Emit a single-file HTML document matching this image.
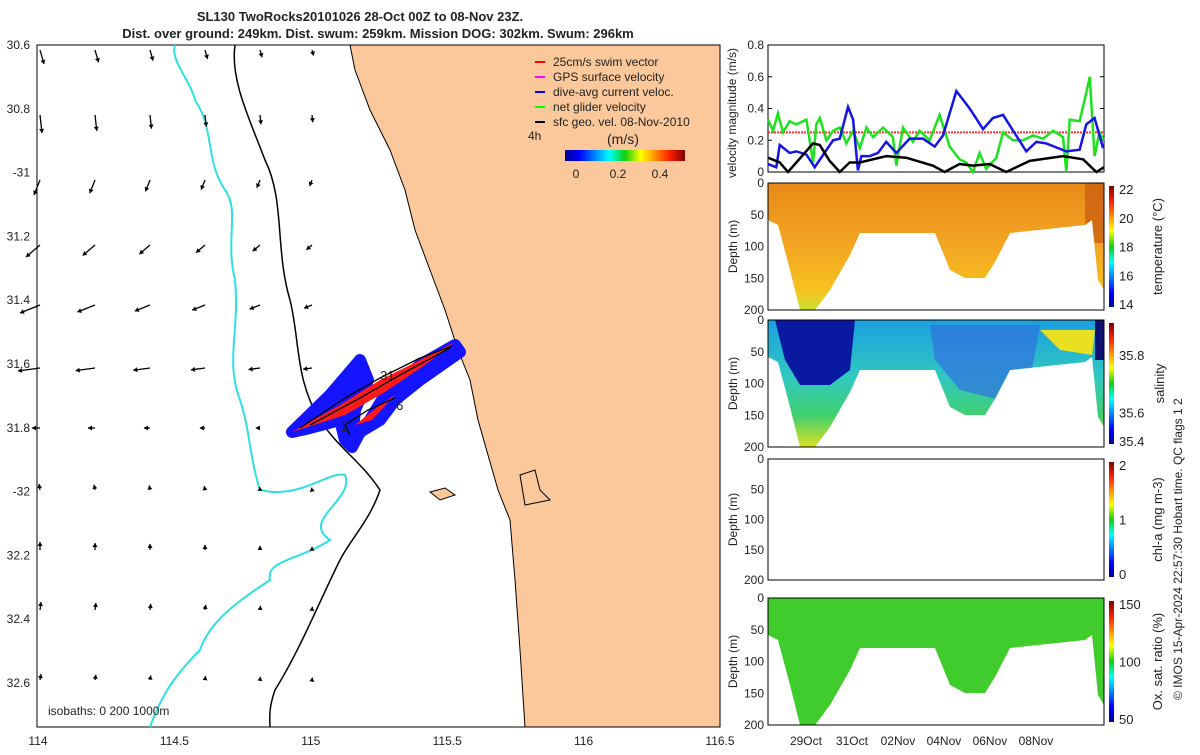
<!DOCTYPE html>
<html><head><meta charset="utf-8"><style>
body{margin:0;background:#fff;width:1200px;height:750px;overflow:hidden;font-family:"Liberation Sans",sans-serif}
svg text{font-family:"Liberation Sans",sans-serif;fill:#222}
</style></head><body>
<svg id="s" width="1200" height="750" viewBox="0 0 1200 750">
<defs>
<linearGradient id="jet" x1="0" x2="1" y1="0" y2="0">
<stop offset="0" stop-color="#00008f"/><stop offset="0.12" stop-color="#0000ff"/><stop offset="0.37" stop-color="#00ffff"/><stop offset="0.5" stop-color="#10d010"/><stop offset="0.63" stop-color="#ffff00"/><stop offset="0.87" stop-color="#ff2000"/><stop offset="1" stop-color="#800000"/></linearGradient>
<linearGradient id="jetv" x1="0" x2="0" y1="1" y2="0">
<stop offset="0" stop-color="#00008f"/><stop offset="0.12" stop-color="#0000ff"/><stop offset="0.37" stop-color="#00ffff"/><stop offset="0.5" stop-color="#10d010"/><stop offset="0.63" stop-color="#ffff00"/><stop offset="0.87" stop-color="#ff2000"/><stop offset="1" stop-color="#800000"/></linearGradient>
<linearGradient id="tg" x1="0" x2="0" y1="0" y2="1"><stop offset="0" stop-color="#e88a18"/><stop offset="0.5" stop-color="#f4a623"/><stop offset="0.85" stop-color="#f6c21e"/><stop offset="1" stop-color="#c8e030"/></linearGradient>
<linearGradient id="sg" x1="0" x2="0" y1="0" y2="1"><stop offset="0" stop-color="#1aa0e0"/><stop offset="0.45" stop-color="#30c8c0"/><stop offset="0.75" stop-color="#40d070"/><stop offset="1" stop-color="#d8e020"/></linearGradient>
</defs>
<g>
<rect x="37" y="45" width="683" height="682" fill="#fff" stroke="#000"/>
<path d="M350,45 L720,45 L720,727 L525,727 L520,650 L515,580 L510,520 L498,490 L488,455 L478,420 L470,380 L458,350 L445,310 L430,270 L415,230 L405,190 L390,150 L370,110 L355,70 Z" fill="#fac89b" stroke="#000"/>
<path d="M175,45 C170,60 190,80 195,100 C215,130 205,160 225,190 C240,210 225,240 235,280 C240,330 225,360 240,400 C250,430 250,460 260,490 C300,500 330,470 345,475 C355,500 300,520 330,540 C300,560 265,560 270,580 C240,600 210,620 200,650 C170,680 160,700 150,727" fill="none" stroke="#30e0e0" stroke-width="2"/>
<path d="M235,45 C230,80 250,120 265,160 C285,200 275,250 290,300 C300,340 295,380 320,420 C340,450 360,460 380,490 C370,520 350,540 340,560 C320,600 300,650 275,690 C268,710 270,720 270,727" fill="none" stroke="#000" stroke-width="1.5"/>
<path d="M430,492 L445,488 L455,495 L440,500 Z M520,475 L535,470 L540,490 L550,500 L525,505 Z" fill="#fac89b" stroke="#000"/>
<g id="arrows"></g>
<g>
<path d="M292,432 L330,395 L360,360 L368,380 L355,410 L352,440 L370,420 L385,395 L420,365 L455,345 L460,352 L420,380 L395,400 L380,420 L360,432 L352,447 L345,440 L340,420 L310,428 Z" fill="#1414ff" stroke="#1414ff" stroke-width="12" stroke-linejoin="round"/>
<path d="M292,432 L340,405 L380,380 L420,360 L455,342 L425,365 L385,392 L345,415 Z M355,425 L380,405 L395,395 L372,420 Z" fill="#ff1a1a"/>
<path d="M300,428 L345,398 L380,378 L420,358 L452,346 M310,425 L360,398 L400,375 L450,348 M345,425 L368,410 L395,398 M345,425 L350,435" fill="none" stroke="#000" stroke-width="1.3"/>
<text x="380" y="380" font-size="13">31</text>
<text x="396" y="410" font-size="13">6</text>
<text x="340" y="431" font-size="13">1</text>
</g>
<g font-size="12">
<line x1="535" y1="62" x2="545" y2="62" stroke="#f00" stroke-width="2"/><text x="553" y="66">25cm/s swim vector</text>
<line x1="535" y1="77" x2="545" y2="77" stroke="#f0f" stroke-width="2"/><text x="553" y="81">GPS surface velocity</text>
<line x1="535" y1="92" x2="545" y2="92" stroke="#00f" stroke-width="2"/><text x="553" y="96">dive-avg current veloc.</text>
<line x1="535" y1="107" x2="545" y2="107" stroke="#0f0" stroke-width="2"/><text x="553" y="111">net glider velocity</text>
<line x1="535" y1="122" x2="545" y2="122" stroke="#000" stroke-width="2"/><text x="553" y="126">sfc geo. vel. 08-Nov-2010</text>
<text x="528" y="140">4h</text>
<text x="607" y="144" font-size="14">(m/s)</text>
<rect x="565" y="150" width="120" height="11" fill="url(#jet)"/>
<text x="576" y="178" text-anchor="middle">0</text><text x="618" y="178" text-anchor="middle">0.2</text><text x="660" y="178" text-anchor="middle">0.4</text>
</g>
<text x="48" y="715" font-size="12">isobaths: 0   200  1000m</text>
<g id="mapaxes" font-size="12"></g>
</g>
<text x="360" y="21" font-size="13" font-weight="bold" text-anchor="middle">SL130 TwoRocks20101026 28-Oct 00Z to 08-Nov 23Z.</text>
<text x="378" y="38" font-size="13" font-weight="bold" text-anchor="middle">Dist. over ground: 249km. Dist. swum: 259km. Mission DOG: 302km. Swum: 296km</text>

<g id="vel"></g>

<g>
<clipPath id="c1"><path d="M768,183 L1104,183 L1104,290 L1098,280 L1092,220 L1085,225 L1010,233 L995,262 L985,278 L965,278 L950,270 L935,233 L860,233 L850,255 L830,290 L815,310 L800,310 L790,270 L778,225 L768,220 Z"/></clipPath>
<rect x="768" y="183" width="336" height="127" fill="url(#tg)" clip-path="url(#c1)"/>
<rect x="1085" y="183" width="19" height="60" fill="#c85a10" opacity=".7" clip-path="url(#c1)"/>
</g>
<g>
<clipPath id="c2"><path transform="translate(0,137)" d="M768,183 L1104,183 L1104,290 L1098,280 L1092,220 L1085,225 L1010,233 L995,262 L985,278 L965,278 L950,270 L935,233 L860,233 L850,255 L830,290 L815,310 L800,310 L790,270 L778,225 L768,220 Z"/></clipPath>
<rect x="768" y="320" width="336" height="127" fill="url(#sg)" clip-path="url(#c2)"/>
<path d="M775,320 L855,320 L850,370 L830,385 L800,385 L785,360 Z" fill="#0a1aa0" clip-path="url(#c2)"/>
<path d="M930,325 L1040,325 L1030,380 L1000,400 L960,390 L935,360 Z" fill="#3070e0" opacity=".7" clip-path="url(#c2)"/>
<path d="M1040,330 L1095,330 L1092,355 L1060,350 Z" fill="#e8e020" clip-path="url(#c2)"/>
<rect x="1095" y="320" width="9" height="40" fill="#101070" clip-path="url(#c2)"/>
</g>
<g>
<clipPath id="c3"><path transform="translate(0,415)" d="M768,183 L1104,183 L1104,290 L1098,280 L1092,220 L1085,225 L1010,233 L995,262 L985,278 L965,278 L950,270 L935,233 L860,233 L850,255 L830,290 L815,310 L800,310 L790,270 L778,225 L768,220 Z"/></clipPath>
<rect x="768" y="598" width="336" height="127" fill="#3fcc2c" clip-path="url(#c3)"/>
</g>
<g id="secaxes" font-size="12"></g>
<text transform="translate(1182,700) rotate(-90)" font-size="12">© IMOS 15-Apr-2024 22:57:30 Hobart time. QC flags 1  2</text>
</svg>
<script>
const NS='http://www.w3.org/2000/svg';
function mk(p,t,a){const e=document.createElementNS(NS,t);for(const k in a)e.setAttribute(k,a[k]);p.appendChild(e);return e;}
// ---- velocity chart data ----
const blueT=[0,0.36,0.51,0.94,1.23,1.67,2.03,2.83,3.12,3.48,3.7,3.91,4.06,4.42,4.78,5.14,5.58,6.16,6.74,7.25,7.61,8.19,8.77,9.35,9.78,10.22,11.23,11.67,12.1,12.97,13.55,13.84,14.2,14.57];
const blueV=[0.05,0.03,0.17,0.12,0.13,0.11,0.03,0.2,0.21,0.41,0.33,0.01,0.1,0.1,0.12,0.19,0.12,0.21,0.21,0.16,0.23,0.51,0.4,0.27,0.34,0.36,0.13,0.19,0.18,0.13,0.14,0.3,0.34,0.15];
const blackT=[0,0.51,0.87,1.96,2.25,2.68,3.12,3.55,3.99,5.14,6.01,7.17,7.68,8.33,8.91,9.64,10.36,11.38,12.83,13.7,14.28,14.61];
const blackV=[0.09,0.06,0,0.18,0.17,0.07,0,0.06,0.06,0.1,0.09,0.04,0,0.05,0.04,0.05,0,0.07,0.1,0.08,0,0.03];
const greenT=[0,0.22,0.43,0.65,0.94,1.23,1.67,1.96,2.1,2.25,2.54,2.83,3.12,3.41,3.7,3.99,4.28,4.57,5.01,5.43,5.58,5.87,6.3,6.59,7.03,7.46,7.9,8.33,8.62,8.91,9.2,9.49,9.93,10.22,10.65,11.09,11.52,11.96,12.39,12.83,12.97,13.12,13.55,13.84,13.99,14.2,14.41,14.61];
const greenV=[0.33,0.26,0.37,0.25,0.32,0.30,0.33,0.06,0.3,0.34,0.2,0.26,0.28,0.18,0.26,0.15,0.28,0.22,0.28,0.22,0.04,0.28,0.19,0.26,0.2,0.36,0.16,0.08,0.06,0,0.12,0.02,0.09,0.25,0.2,0.2,0.23,0.21,0.26,0.22,0,0.33,0.32,0.5,0.6,0.1,0.25,0.2];
const swimV=0.25;
const velTicks=[0,0.2,0.4,0.6,0.8];
const dateLabels=['29Oct','31Oct','02Nov','04Nov','06Nov','08Nov'];
const dateDays=[1.65,3.65,5.65,7.65,9.65,11.65];
const depthTicks=[0,50,100,150,200];
const lonTicks=[114,114.5,115,115.5,116,116.5];
const latTicks=[30.6,30.8,-31,31.2,31.4,31.6,31.8,-32,32.2,32.4,32.6];

const X0=768,X1=1104,DAYS=14.61;
const tx=d=>X0+d/DAYS*(X1-X0);
const vy=v=>172-v/0.8*127;
const vel=document.getElementById('vel');
const vb=mk(vel,'rect',{x:768,y:45,width:336,height:127,fill:'#fff',stroke:'#000'});


velTicks.forEach(v=>{const t=mk(vel,'text',{x:764,y:vy(v)+4,'font-size':12,'text-anchor':'end'});t.textContent=v;


mk(vel,'line',{x1:768,x2:772,y1:vy(v),y2:vy(v),stroke:'#000'});mk(vel,'line',{x1:1100,x2:1104,y1:vy(v),y2:vy(v),stroke:'#000'});});
const yl=mk(vel,'text',{transform:'translate(736,113) rotate(-90)','font-size':12,'text-anchor':'middle'});yl.textContent='velocity magnitude (m/s)';


const sw=mk(vel,'line',{x1:X0,x2:X1,y1:vy(swimV),y2:vy(swimV),stroke:'#ff3030','stroke-width':2,'stroke-dasharray':'2 1'});


function linePath(T,V){return T.map((t,i)=>(i?'L':'M')+tx(t)+','+vy(V[i])).join('');}
const g1=mk(vel,'path',{d:linePath(greenT,greenV),fill:'none',stroke:'#1de21d','stroke-width':2.5});


const b1=mk(vel,'path',{d:linePath(blueT,blueV),fill:'none',stroke:'#1414e6','stroke-width':2.5});


const k1=mk(vel,'path',{d:linePath(blackT,blackV),fill:'none',stroke:'#000','stroke-width':2.5});



// sections axes
const sa=document.getElementById('secaxes');
const panels=[{y:183,h:127,title:'temperature (°C)',cb:['22','20','18','16','14']},
{y:320,h:127,title:'salinity',cb:['','35.8','','35.6','35.4']},
{y:459,h:121,title:'chl-a (mg m-3)',cb:['2','','1','','0']},
{y:598,h:127,title:'Ox. sat. ratio (%)',cb:['150','','100','','50']}];
panels.forEach((p,pi)=>{
 const r=mk(sa,'rect',{x:768,y:p.y,width:336,height:p.h,fill:'none',stroke:'#000'});
 
 
 depthTicks.forEach((d,i)=>{const yy=p.y+d/200*p.h;const t=mk(sa,'text',{x:764,y:yy+4,'text-anchor':'end'});t.textContent=d;
 
 });
 const yt=mk(sa,'text',{transform:`translate(737,${p.y+p.h/2}) rotate(-90)`,'text-anchor':'middle'});yt.textContent='Depth (m)';
 
 
 const cb=mk(sa,'rect',{x:1109,y:p.y+3,width:5,height:p.h-6,fill:'url(#jetv)'});
 
 
 p.cb.forEach((l,i)=>{if(!l)return;const yy=p.y+6+i*(p.h-12)/4;const t=mk(sa,'text',{x:1119,y:yy+5,'font-size':13});t.textContent=l;
 
 });
 const ct=mk(sa,'text',{transform:`translate(${pi==1?1164:1162},${p.y+p.h/2}) rotate(-90)`,'text-anchor':'middle','font-size':13});ct.textContent=p.title;
 
 
});
dateLabels.forEach((l,i)=>{const t=mk(sa,'text',{x:tx(dateDays[i]),y:745,'text-anchor':'middle'});t.textContent=l;

});

// map axes
const ma=document.getElementById('mapaxes');
const lx=v=>38+(v-114)/2.5*682;
lonTicks.forEach(v=>{const t=mk(ma,'text',{x:lx(v),y:745,'text-anchor':'middle'});t.textContent=v;

});
latTicks.forEach((v,i)=>{const t=mk(ma,'text',{x:30,y:49+i*63.8,'text-anchor':'end'});t.textContent=v;

});

// geostrophic arrows (u,v per row, approximate)
const arrowCols=[40,95,150,205,260,312];
const arrowRows=[50,115,180,245,305,368,428,490,550,610,680];
const rowU=[4,2,-6,-14,-20,-22,-8,-1,0,1,1];
const rowV=[14,18,15,12,8,3,0,-6,-8,-8,-6];
const ag=document.getElementById('arrows');
arrowRows.forEach((y,r)=>arrowCols.forEach((x,c)=>{
 const s=1-c*0.12;const u=rowU[r]*s,v=rowV[r]*s;
 const x2=x+u,y2=y+v;
 const a=mk(ag,'line',{x1:x,y1:y,x2:x2,y2:y2,stroke:'#000','stroke-width':1.3});
 
 
 const L=Math.hypot(u,v)||1,ux=u/L,uy=v/L;
 mk(ag,'path',{d:`M${x2},${y2}L${x2-4*ux+2.5*uy},${y2-4*uy-2.5*ux}L${x2-4*ux-2.5*uy},${y2-4*uy+2.5*ux}Z`,fill:'#000'});
}));
</script>
</body></html>
